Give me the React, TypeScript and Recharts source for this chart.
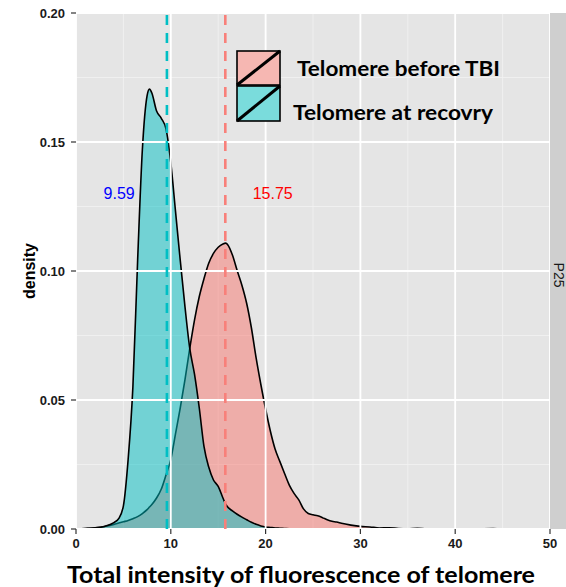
import {
  AreaChart,
  Area,
  XAxis,
  YAxis,
  CartesianGrid,
  ReferenceLine,
  ReferenceDot,
} from "recharts";

// density estimates
const XS = [
  0, 1, 2, 3, 4, 4.5, 5, 5.5, 6, 6.5, 7, 7.5, 7.75, 8, 8.5, 9, 9.5, 10, 10.5, 11,
  11.5, 12, 12.5, 13, 13.5, 14, 14.5, 15, 15.5, 15.8, 16, 16.5, 17, 17.5, 18,
  18.5, 19, 19.5, 20, 20.5, 21, 21.5, 22, 22.5, 23, 23.5, 24, 24.5, 25, 25.5, 26,
  26.5, 27, 27.5, 28, 29, 30, 31, 32, 33, 34, 35, 36, 37, 38, 40, 42, 44, 45,
];

const BEFORE_TBI = [
  0.0001, 0.0002, 0.0005, 0.001, 0.0018, 0.0023, 0.0028, 0.0033, 0.004, 0.0048,
  0.006, 0.0075, 0.0085, 0.0095, 0.012, 0.0155, 0.021, 0.027, 0.037, 0.047,
  0.058, 0.07, 0.081, 0.09, 0.097, 0.103, 0.1068, 0.1092, 0.1105, 0.1108,
  0.1102, 0.1062, 0.1002, 0.0945, 0.0875, 0.078, 0.0663, 0.056, 0.0465, 0.038,
  0.031, 0.0262, 0.0215, 0.017, 0.0138, 0.0113, 0.0078, 0.006, 0.0055, 0.0051,
  0.0044, 0.0036, 0.003, 0.0027, 0.0022, 0.0015, 0.001, 0.0008, 0.0004, 0.0005,
  0.0002, 0.0001, 0.0003, 0.0001, 0.0001, 0, 0, 0.0002, 0,
];

const AT_RECOVERY = [
  0.0001, 0.0002, 0.0004, 0.001, 0.0025, 0.004, 0.009, 0.027, 0.055, 0.104,
  0.147, 0.168, 0.1705, 0.169, 0.162, 0.1592, 0.155, 0.142, 0.123, 0.104, 0.086,
  0.07, 0.06, 0.047, 0.032, 0.024, 0.019, 0.0165, 0.012, 0.0095, 0.0085, 0.007,
  0.0057, 0.0046, 0.0036, 0.0026, 0.0018, 0.0012, 0.0008, 0.0006, 0.0004,
  0.0003, 0.0002, 0.0001, 0.0001, 0.0001, 0.0001, 0.0001, 0.0001, 0.0001,
  0.0001, 0.0001, 0.0001, 0.0001, 0.0001, 0.0001, 0.0001, 0.0001, 0.0001, null,
  null, null, null, null, null, null, null, null, null,
];

const X_TICKS = [0, 5, 10, 15, 20, 25, 30, 35, 40, 45, 50];
const Y_TICKS = [0, 0.025, 0.05, 0.075, 0.1, 0.125, 0.15, 0.175, 0.2];
const X_MAJOR = [0, 10, 20, 30, 40, 50];
const Y_MAJOR = [0, 0.05, 0.1, 0.15, 0.2];

const MEANS = [
  { key: "recovery", value: 9.59, color: "#00BFC4", text: "9.59", textColor: "#0000FF", labelX: 4.55 },
  { key: "before", value: 15.75, color: "#F8807A", text: "15.75", textColor: "#FF0000", labelX: 20.75 },
];

const LEGEND = [
  { label: "Telomere before TBI", fill: "#F6B7B2" },
  { label: "Telomere at recovry", fill: "#7ADCDC" },
];

const data = XS.map((x, i) => ({
  x,
  before: BEFORE_TBI[i],
  recovery: AT_RECOVERY[i],
}));

const tickFont = "'Liberation Sans', Arial, sans-serif";

const XTick = (props: any) => {
  const { x, y, payload } = props;
  if (payload.value % 10 !== 0) return <g />;
  return (
    <g>
      <line x1={x} y1={y} x2={x} y2={y + 5} stroke="#333" strokeWidth={1.2} />
      <text
        x={x}
        y={y + 19}
        textAnchor="middle"
        fontSize={13}
        fontWeight="bold"
        fill="#1a1a1a"
        fontFamily={tickFont}
      >
        {payload.value}
      </text>
    </g>
  );
};

const YTick = (props: any) => {
  const { x, y, payload } = props;
  if (Math.round(payload.value * 1000) % 50 !== 0) return <g />;
  return (
    <g>
      <line x1={x - 5} y1={y} x2={x} y2={y} stroke="#333" strokeWidth={1.2} />
      <text
        x={x - 11}
        y={y + 5}
        textAnchor="end"
        fontSize={13}
        fontWeight="bold"
        fill="#1a1a1a"
        fontFamily={tickFont}
      >
        {payload.value.toFixed(2)}
      </text>
    </g>
  );
};

export default function App() {
  return (
    <div style={{ position: "absolute", left: 0, top: 0, width: 566, height: 587, background: "#fff" }}>
      <AreaChart
        width={566}
        height={587}
        data={data}
        margin={{ top: 13, right: 16, bottom: 28, left: 6 }}
      >
        <CartesianGrid fill="#E5E5E5" stroke="#F2F2F2" strokeWidth={0.8} />
        <XAxis
          dataKey="x"
          type="number"
          domain={[0, 50]}
          ticks={X_TICKS}
          interval={0}
          axisLine={false}
          tickLine={false}
          tickSize={0}
          tickMargin={0}
          height={30}
          tick={<XTick />}
        />
        <YAxis
          type="number"
          domain={[0, 0.2]}
          ticks={Y_TICKS}
          interval={0}
          axisLine={false}
          tickLine={false}
          tickSize={0}
          tickMargin={0}
          width={70}
          tick={<YTick />}
        />
        {X_MAJOR.map((v) => (
          <ReferenceLine key={"gx" + v} x={v} stroke="#FFFFFF" strokeWidth={1.8} />
        ))}
        {Y_MAJOR.map((v) => (
          <ReferenceLine key={"gy" + v} y={v} stroke="#FFFFFF" strokeWidth={1.8} />
        ))}
        <Area
          type="monotone"
          dataKey="before"
          stroke="#000"
          strokeWidth={1.6}
          fill="#F8766D"
          fillOpacity={0.5}
          dot={false}
          activeDot={false}
          isAnimationActive={false}
        />
        <Area
          type="monotone"
          dataKey="recovery"
          stroke="#000"
          strokeWidth={1.6}
          fill="#00BFC4"
          fillOpacity={0.5}
          dot={false}
          activeDot={false}
          isAnimationActive={false}
        />
        {MEANS.map((m) => (
          <ReferenceLine
            key={m.key}
            x={m.value}
            stroke={m.color}
            strokeWidth={2.6}
            strokeDasharray="10 8"
          />
        ))}
        {MEANS.map((m) => (
          <ReferenceDot
            key={"lab" + m.key}
            x={m.labelX}
            y={0.13}
            r={1}
            fill="none"
            stroke="none"
            label={{
              value: m.text,
              position: "center",
              fill: m.textColor,
              fontSize: 16,
              fontFamily: tickFont,
            }}
          />
        ))}
      </AreaChart>
      <svg
        width={566}
        height={587}
        style={{ position: "absolute", left: 0, top: 0, pointerEvents: "none" }}
      >
        <rect x={550} y={13} width={16} height={516} fill="#CFCFCF" />
        <text
          transform="translate(559,275) rotate(90)"
          textAnchor="middle"
          dominantBaseline="central"
          fontSize={14}
          fill="#1a1a1a"
          fontFamily={tickFont}
        >
          P25
        </text>
        {LEGEND.map((l, i) => {
          const y = i === 0 ? 51 : 86;
          const h = i === 0 ? 34 : 35;
          return (
            <g key={l.label}>
              <rect x={237} y={y} width={43} height={h} fill={l.fill} stroke="#000" strokeWidth={1.6} />
              <line x1={237} y1={y + h} x2={280} y2={y} stroke="#000" strokeWidth={3} />
            </g>
          );
        })}
        <text x={297} y={76} fontSize={20} fontWeight="bold" fontFamily="Lato, sans-serif" fill="#000" textLength={203} lengthAdjust="spacingAndGlyphs">
          {LEGEND[0].label}
        </text>
        <text x={293} y={120} fontSize={20} fontWeight="bold" fontFamily="Lato, sans-serif" fill="#000" textLength={200} lengthAdjust="spacingAndGlyphs">
          {LEGEND[1].label}
        </text>
        <text
          transform="translate(35,271) rotate(-90)"
          textAnchor="middle"
          fontSize={16}
          fontWeight="bold"
          fontFamily={tickFont}
          fill="#000"
        >
          density
        </text>
        <text x={67} y={583} fontSize={22} fontWeight="bold" fontFamily="Lato, sans-serif" fill="#000" textLength={468} lengthAdjust="spacingAndGlyphs">
          Total intensity of fluorescence of telomere
        </text>
      </svg>
    </div>
  );
}
